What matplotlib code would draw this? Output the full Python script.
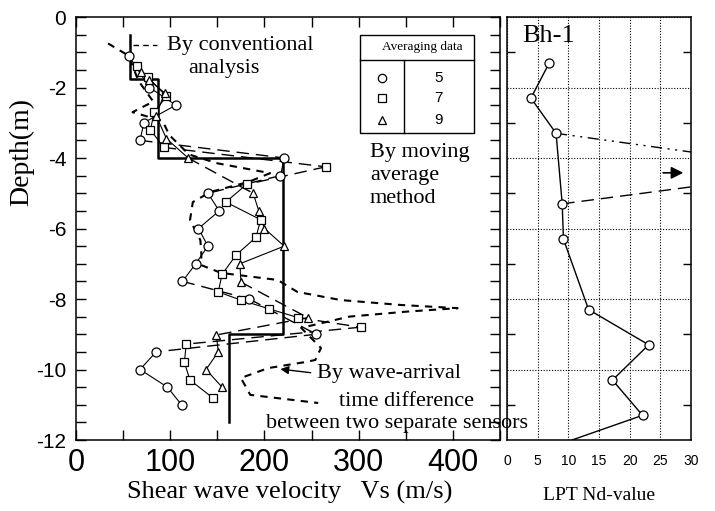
import numpy as np
import matplotlib
matplotlib.use('Agg')
import matplotlib.pyplot as plt
from matplotlib.patches import Rectangle
from matplotlib.ticker import MultipleLocator

plt.rcParams['axes.unicode_minus'] = False
plt.rcParams['font.family'] = ['Liberation Serif', 'DejaVu Serif']

# conventional analysis (step profile)
conv_vs    = [57, 57, 87, 87, 220, 220, 162, 162]
conv_depth = [-0.5, -1.75, -1.75, -4.0, -4.0, -9.0, -9.0, -11.5]

# wave-arrival time difference between two sensors
wave_vs    = [34, 56, 66, 82, 60, 92, 99, 120, 150, 206, 183, 143, 124, 121, 132, 133,
              133, 154, 214, 235, 281, 345, 405, 350, 290, 239, 260, 254, 243, 204, 175,
              185, 257]
wave_depth = [-0.75, -1.1, -1.8, -2.4, -2.7, -2.95, -3.35, -3.9, -4.15, -4.43, -4.68,
              -4.96, -5.25, -5.76, -6.33, -6.7, -7.04, -7.26, -7.46, -7.8, -8.03, -8.17,
              -8.26, -8.36, -8.5, -8.82, -9.39, -9.73, -9.79, -9.96, -10.24, -10.72, -10.95]

# moving average, 5 / 7 / 9 data
avg5_vs    = [56, 78, 106, 72, 68, 221, 217, 140, 152, 130, 140, 127, 113, 184, 255,
              85, 68, 97, 112]
avg5_depth = [-1.1, -2.0, -2.5, -3.0, -3.5, -4.0, -4.5, -5.0, -5.5, -6.0, -6.5, -7.0,
              -7.5, -8.0, -9.0, -9.5, -10.0, -10.5, -11.0]

avg7_vs    = [65, 76, 96, 83, 79, 93, 265, 181, 159, 196, 191, 170, 155, 151, 175,
              205, 236, 302, 117, 115, 121, 145]
avg7_depth = [-1.4, -1.7, -2.25, -2.7, -3.2, -3.7, -4.25, -4.75, -5.25, -5.75, -6.25,
              -6.75, -7.3, -7.8, -8.03, -8.28, -8.53, -8.8, -9.28, -9.8, -10.3, -10.8]

avg9_vs    = [69, 78, 94, 85, 96, 119, 188, 194, 200, 221, 174, 175, 246, 149, 151,
              138, 155]
avg9_depth = [-1.55, -1.8, -2.15, -2.8, -3.45, -4.0, -5.0, -5.5, -6.0, -6.5, -7.0,
              -7.52, -8.53, -9.02, -9.5, -10.0, -10.5]

avg_labels = ['5', '7', '9']

# LPT Nd-value (Bh-1)
nd_value = [6.9, 3.9, 8.0, 9.0, 9.2, 13.3, 23.1, 17.2, 22.1, 10.6]
nd_depth = [-1.3, -2.3, -3.3, -5.3, -6.3, -8.3, -9.3, -10.3, -11.3, -12.0]
# values beyond the scale between -3.3 and -5.3 m
off_upper_x, off_upper_d = [8.0, 30.0], [-3.3, -3.83]
off_lower_x, off_lower_d = [9.0, 30.0], [-5.3, -4.82]

W, H = 715, 511


def fx(px):
    return px / W


def fy(py):
    return 1 - py / H


fig = plt.figure(figsize=(W / 100, H / 100), dpi=100)
ax = fig.add_axes([fx(76), fy(440), (500 - 76) / W, (440 - 17) / H])
ax2 = fig.add_axes([fx(507), fy(440), (691 - 507) / W, (440 - 17) / H])

# ---- left panel ----
ax.plot(conv_vs, conv_depth, color='k', lw=1.8, zorder=3)
ax.plot([60, 86], [-0.8, -0.8], color='k', lw=1.0, dashes=(4, 3))

ax.plot(wave_vs, wave_depth, color='k', lw=1.5, dashes=(3.5, 3), zorder=2)


def plot_avg(vs, depth, marker, ms):
    for i in range(len(vs) - 1):
        jump = abs(vs[i + 1] - vs[i]) > 50
        if jump:
            ax.plot(vs[i:i + 2], depth[i:i + 2], color='k', lw=1.0, dashes=(9, 5), zorder=2)
        else:
            ax.plot(vs[i:i + 2], depth[i:i + 2], color='k', lw=0.8, zorder=2)
    ax.plot(vs, depth, ls='none', marker=marker, ms=ms, mfc='white', mec='k',
            mew=0.9, zorder=4)


plot_avg(avg5_vs, avg5_depth, 'o', 6.5)
plot_avg(avg7_vs, avg7_depth, 's', 6)
plot_avg(avg9_vs, avg9_depth, '^', 6)

ax.set_xlim(0, 450)
ax.set_ylim(-12, 0)
ax.xaxis.set_major_locator(MultipleLocator(100))
ax.xaxis.set_minor_locator(MultipleLocator(50))
ax.yaxis.set_major_locator(MultipleLocator(2))
ax.yaxis.set_minor_locator(MultipleLocator(0.5))
ax.tick_params(which='both', direction='in', top=True, right=True, length=7, width=1)
ax.tick_params(axis='x', which='major', labelsize=22, pad=6)
ax.tick_params(axis='y', which='major', labelsize=15, pad=7)
for lab in ax.get_xticklabels() + ax.get_yticklabels():
    lab.set_family('Liberation Sans')
for sp in ax.spines.values():
    sp.set_linewidth(1.1)

# legend table
ax.add_patch(Rectangle((301, -3.3), 121, 2.8, fill=False, lw=1.0, ec='k', zorder=5))
ax.plot([301, 422], [-1.22, -1.22], color='k', lw=1.0, zorder=5)
ax.plot([348, 348], [-1.22, -3.3], color='k', lw=1.0, zorder=5)
ax.text(368, -0.86, 'Averaging data', ha='center', va='center', fontsize=9.5)
for mk, lab, yy in zip(['o', 's', '^'], avg_labels, [-1.72, -2.3, -2.92]):
    ax.plot([325], [yy], marker=mk, ms=6, mfc='white', mec='k', mew=0.9, zorder=6)
    ax.text(385, yy, lab, ha='center', va='center', fontsize=11, family='Liberation Sans')

ax.text(97, -0.8, 'By conventional', fontsize=16, va='center', ha='left')
ax.text(119, -1.45, 'analysis', fontsize=16, va='center', ha='left')
ax.text(312, -3.85, 'By moving', fontsize=16, va='center', ha='left')
ax.text(312, -4.5, 'average', fontsize=16, va='center', ha='left')
ax.text(312, -5.15, 'method', fontsize=16, va='center', ha='left')
ax.annotate('', xy=(214, -9.98), xytext=(252, -10.1),
            arrowprops=dict(arrowstyle='-|>', color='k', lw=1.0, mutation_scale=12))
ax.text(256, -10.1, 'By wave-arrival', fontsize=16, va='center', ha='left')
ax.text(279, -10.9, 'time difference', fontsize=16, va='center', ha='left')
fig.text(fx(266), fy(423), 'between two separate sensors', fontsize=16,
         va='center', ha='left', zorder=10)

fig.text(fx(22), fy(152), 'Depth(m)', rotation=90, fontsize=20, ha='center', va='center')
fig.text(fx(290), fy(492), 'Shear wave velocity   Vs (m/s)', fontsize=19,
         ha='center', va='center')

# ---- right panel ----
ax2.plot(nd_value, nd_depth, color='k', lw=1.0, marker='o', ms=6.5, mfc='white',
         mec='k', mew=0.9, markevery=list(range(len(nd_value) - 1)), zorder=3)
ax2.plot(off_upper_x, off_upper_d, color='k', lw=1.0, dashes=(8, 4, 1.5, 4, 1.5, 4))
ax2.plot(off_lower_x, off_lower_d, color='k', lw=1.0, dashes=(9, 5))
ax2.annotate('', xy=(29.2, -4.42), xytext=(25.0, -4.42),
             arrowprops=dict(arrowstyle='-|>', color='k', lw=1.2, mutation_scale=18))
ax2.text(2.5, -0.55, 'Bh-1', fontsize=19, va='center', ha='left')

ax2.set_xlim(0, 30)
ax2.set_ylim(-12, 0)
ax2.set_xticks(np.arange(0, 31, 5))
ax2.set_yticks(np.arange(-12, 1, 2))
ax2.set_yticks(np.arange(-11, 0, 2), minor=True)
ax2.grid(True, which='major', color='k', ls=(0, (1, 1.5)), lw=0.8)
ax2.set_yticklabels([])
ax2.tick_params(which='major', length=0, labelsize=10, pad=10)
ax2.tick_params(which='minor', direction='in', left=True, right=True, length=6, width=1)
for lab in ax2.get_xticklabels():
    lab.set_family('Liberation Sans')
for sp in ax2.spines.values():
    sp.set_linewidth(1.1)
ax2.set_xlabel('LPT Nd-value', fontsize=14, labelpad=14)

fig.savefig('out.png', dpi=100)
